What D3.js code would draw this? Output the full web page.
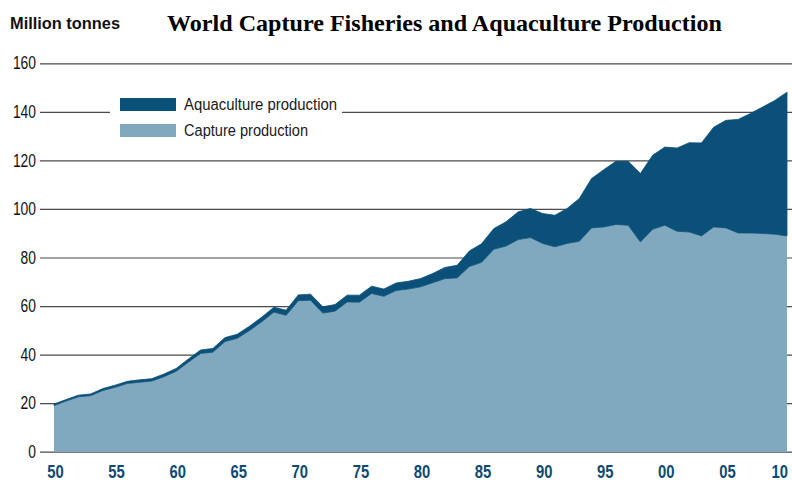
<!DOCTYPE html>
<html>
<head>
<meta charset="utf-8">
<script src="https://cdn.jsdelivr.net/npm/d3@7"></script>
<style>
  html, body { margin: 0; padding: 0; background: #fff; }
  svg { display: block; }
</style>
</head>
<body>
<svg id="chart" width="792" height="484"></svg>
<script>
// World fisheries production, million tonnes
const years = d3.range(1950, 2011);
const capture = [
  19.0, 20.9, 22.6, 23.1, 25.2, 26.5, 28.1, 28.6, 29.1, 30.9,
  33.1, 36.9, 40.5, 41.0, 45.4, 46.7, 49.9, 53.5, 57.5, 56.2,
  62.2, 62.4, 57.1, 57.9, 61.7, 61.6, 65.2, 64.0, 66.4, 67.0,
  67.9, 69.6, 71.3, 71.6, 76.3, 78.0, 83.4, 84.7, 87.4, 88.2,
  85.8, 84.4, 85.8, 86.7, 92.2, 92.6, 93.6, 93.3, 86.4, 91.6,
  93.3, 90.8, 90.5, 88.9, 92.6, 92.2, 90.1, 90.1, 89.9, 89.6,
  88.9
];
const aquaculture = [
  0.6, 0.6, 0.7, 0.7, 0.8, 0.9, 0.9, 1.0, 1.0, 1.1,
  1.2, 1.3, 1.4, 1.5, 1.6, 1.7, 1.8, 1.9, 2.0, 2.1,
  2.4, 2.5, 2.6, 2.7, 2.8, 2.9, 3.0, 3.0, 3.1, 3.2,
  3.4, 3.8, 4.6, 5.2, 6.4, 7.7, 8.5, 10.0, 11.4, 12.0,
  12.3, 13.0, 14.4, 17.6, 20.3, 23.6, 26.0, 26.3, 28.2, 30.5,
  32.2, 34.3, 36.8, 38.3, 41.1, 44.3, 46.8, 49.2, 52.1, 55.1,
  59.2
];
const yTicks = [0, 20, 40, 60, 80, 100, 120, 140, 160];
const xTicks = [1950, 1955, 1960, 1965, 1970, 1975, 1980, 1985, 1990, 1995, 2000, 2005, 2010];
const seriesNames = ["Aquaculture production", "Capture production"];

const colAqua = "#0b5079";
const colCapture = "#80a9c0";
const sans = "'Liberation Sans Narrow', 'Arial Narrow', 'Liberation Sans', Arial, sans-serif";

const svg = d3.select("#chart");

const x = d3.scaleLinear().domain([1950, 2010]).range([54, 787]);
const y = d3.scaleLinear().domain([0, 160]).range([451.7, 63.3]);

// Horizontal gridlines with left labels
const yAxis = svg.append("g")
  .attr("transform", "translate(40,0)")
  .call(d3.axisLeft(y).tickValues(yTicks).tickSize(-752).tickPadding(4).tickFormat(d3.format("d")));
yAxis.select(".domain").remove();
yAxis.selectAll(".tick line").attr("stroke", "#4a4a4a").attr("stroke-width", 1.2);
yAxis.selectAll(".tick text")
  .attr("font-family", sans).attr("font-size", 17.5).attr("fill", "#111")
  .attr("textLength", d => String(d).length * 7.7)
  .attr("lengthAdjust", "spacingAndGlyphs");

// Stacked areas
const rows = years.map((yr, i) => ({ year: yr, capture: capture[i], aquaculture: aquaculture[i] }));
const stack = d3.stack().keys(["capture", "aquaculture"]);
const layers = stack(rows);
const area = d3.area()
  .x(d => x(d.data.year))
  .y0(d => y(d[0]))
  .y1(d => y(d[1]));
const fills = { capture: colCapture, aquaculture: colAqua };
svg.append("g").selectAll("path")
  .data(layers)
  .join("path")
  .attr("d", area)
  .attr("fill", d => fills[d.key])
  .attr("stroke", d => d.key === "aquaculture" ? colAqua : "none")
  .attr("stroke-width", 0.8)
  .attr("stroke-linejoin", "round");

// Year labels
const xAxis = svg.append("g")
  .attr("transform", "translate(1,0)")
  .call(d3.axisBottom(x).tickValues(xTicks).tickSize(0).tickPadding(0)
    .tickFormat(d => String(d % 100).padStart(2, "0")));
xAxis.select(".domain").remove();
xAxis.selectAll(".tick text")
  .attr("y", 478).attr("dy", null)
  .attr("font-family", sans).attr("font-size", 18).attr("font-weight", "bold")
  .attr("fill", "#0e4a72")
  .attr("textLength", 16.5)
  .attr("lengthAdjust", "spacingAndGlyphs");
xAxis.selectAll(".tick").filter(d => d === 2010).select("text")
  .attr("text-anchor", "end").attr("x", -0.5);

// Legend (interrupts the 140 gridline)
const legend = svg.append("g");
legend.append("rect").attr("x", 110).attr("y", 94).attr("width", 232).attr("height", 46).attr("fill", "#fff");
const legendColors = [colAqua, colCapture];
const legendWidths = [153, 124];
seriesNames.forEach((name, i) => {
  const top = 98 + i * 26;
  legend.append("rect").attr("x", 120).attr("y", top).attr("width", 56).attr("height", 13)
    .attr("fill", legendColors[i]);
  legend.append("text").attr("x", 184).attr("y", top + 12)
    .attr("font-family", sans).attr("font-size", 16).attr("fill", "#1a1a1a")
    .attr("textLength", legendWidths[i]).attr("lengthAdjust", "spacingAndGlyphs")
    .text(name);
});

// Unit label and title
svg.append("text").attr("x", 10).attr("y", 29)
  .attr("font-family", sans).attr("font-size", 16).attr("font-weight", "bold").attr("fill", "#111")
  .attr("textLength", 110).attr("lengthAdjust", "spacingAndGlyphs")
  .text("Million tonnes");
svg.append("text").attr("x", 167).attr("y", 31)
  .attr("font-family", "'Liberation Serif', 'Times New Roman', serif").attr("font-size", 23)
  .attr("font-weight", "bold").attr("fill", "#000")
  .attr("textLength", 555).attr("lengthAdjust", "spacingAndGlyphs")
  .text("World Capture Fisheries and Aquaculture Production");
</script>
</body>
</html>
